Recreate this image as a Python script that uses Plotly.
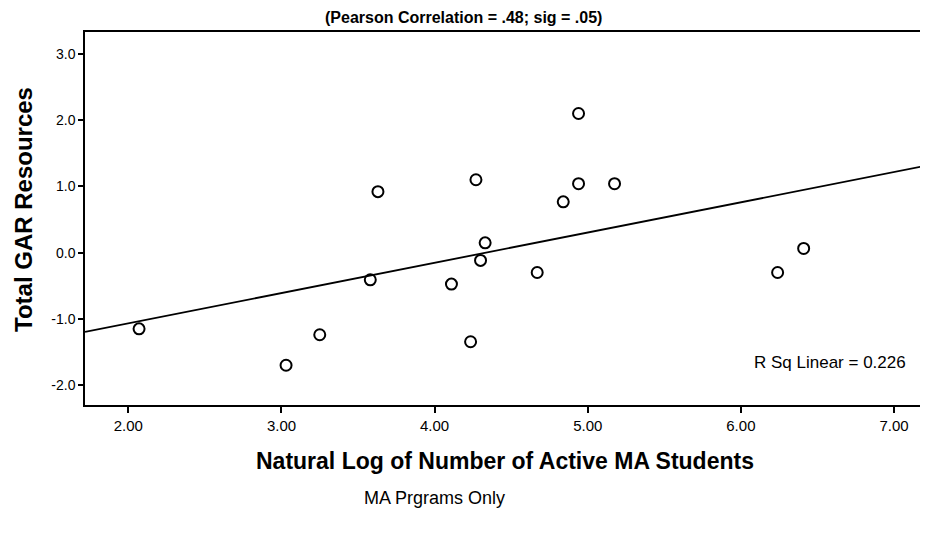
import numpy as np
import plotly.graph_objects as go

# Data
ln_students = [2.07, 3.03, 3.25, 3.58, 3.63, 4.11, 4.235, 4.27, 4.33, 4.30,
               4.67, 4.84, 4.94, 4.94, 5.175, 6.24, 6.41]
gar_resources = [-1.15, -1.70, -1.24, -0.41, 0.92, -0.475, -1.345, 1.10, 0.148, -0.118,
                 -0.30, 0.766, 1.04, 2.10, 1.04, -0.30, 0.063]

x_ticks = [2, 3, 4, 5, 6, 7]
x_tick_labels = ["2.00", "3.00", "4.00", "5.00", "6.00", "7.00"]
y_ticks = [-2, -1, 0, 1, 2, 3]
y_tick_labels = ["-2.0", "-1.0", "0.0", "1.0", "2.0", "3.0"]

x_range = [1.717, 7.222]
y_range = [-2.30, 3.33]

chart_title = "(Pearson Correlation = .48; sig = .05)"
x_title = "Natural Log of Number of Active MA Students"
y_title = "Total GAR Resources"
subtitle = "MA Prgrams Only"

# Linear fit computed from the data
slope, intercept = np.polyfit(ln_students, gar_resources, 1)
pred = np.polyval([slope, intercept], ln_students)
ss_res = np.sum((np.array(gar_resources) - pred) ** 2)
ss_tot = np.sum((np.array(gar_resources) - np.mean(gar_resources)) ** 2)
r2 = 1 - ss_res / ss_tot
fit_x = np.array(x_range)
fit_y = slope * fit_x + intercept

FONT = "Liberation Sans, Arial, sans-serif"

# Page layout (body margin of 8px is compensated)
OFF = 8
W, H = 928 - OFF, 542 - 2 * OFF - 8
PL, PR, PT, PB = 85, 928, 32, 405  # plot area in page pixels
ml, mr, mt = PL - OFF, 0, PT - OFF
mb = H - (PB - OFF)


def px(xp):
    return (xp - PL) / (PR - PL)


def py(yp):
    return (PB - yp) / (PB - PT)


fig = go.Figure()
fig.add_trace(go.Scatter(x=fit_x, y=fit_y, mode="lines",
                         line=dict(color="black", width=1.8), showlegend=False,
                         hoverinfo="skip"))
fig.add_trace(go.Scatter(x=ln_students, y=gar_resources, mode="markers",
                         marker=dict(symbol="circle-open", size=11, color="black",
                                     line=dict(width=2, color="black")),
                         showlegend=False))

fig.update_layout(
    width=W, height=H,
    margin=dict(l=ml, r=mr, t=mt, b=mb, pad=0),
    paper_bgcolor="white", plot_bgcolor="white",
    font=dict(family=FONT, color="black"),
    xaxis=dict(range=x_range, tickvals=x_ticks, ticktext=x_tick_labels,
               showgrid=False, zeroline=False, showline=True, linecolor="black",
               linewidth=1.5, mirror=True, ticks="outside", ticklen=6, tickwidth=1.5,
               tickcolor="black", tickfont=dict(size=15, family=FONT, color="black")),
    yaxis=dict(range=y_range, tickvals=y_ticks, ticktext=y_tick_labels,
               showgrid=False, zeroline=False, showline=True, linecolor="black",
               linewidth=1.5, ticks="outside", ticklen=5, tickwidth=1.5,
               tickcolor="black", tickfont=dict(size=14, family=FONT, color="black")),
    annotations=[
        dict(text="<b>" + chart_title + "</b>", xref="paper", yref="paper",
             x=px(463), y=py(18), showarrow=False,
             font=dict(size=16, family=FONT, color="black"), xanchor="center", yanchor="middle"),
        dict(text="<b>" + y_title + "</b>", xref="paper", yref="paper",
             x=px(23), y=py(210), textangle=-90, showarrow=False,
             font=dict(size=24, family=FONT, color="black"), xanchor="center", yanchor="middle"),
        dict(text="<b>" + x_title + "</b>", xref="paper", yref="paper",
             x=px(505), y=py(461), showarrow=False,
             font=dict(size=23, family=FONT, color="black"), xanchor="center", yanchor="middle"),
        dict(text=subtitle, xref="paper", yref="paper",
             x=px(434), y=py(498), showarrow=False,
             font=dict(size=18, family=FONT, color="black"), xanchor="center", yanchor="middle"),
        dict(text="R Sq Linear = %.3f" % r2, xref="paper", yref="paper",
             x=px(830), y=py(362), showarrow=False,
             font=dict(size=17, family=FONT, color="black"), xanchor="center", yanchor="middle"),
    ],
)

fig.write_html("out.html")
